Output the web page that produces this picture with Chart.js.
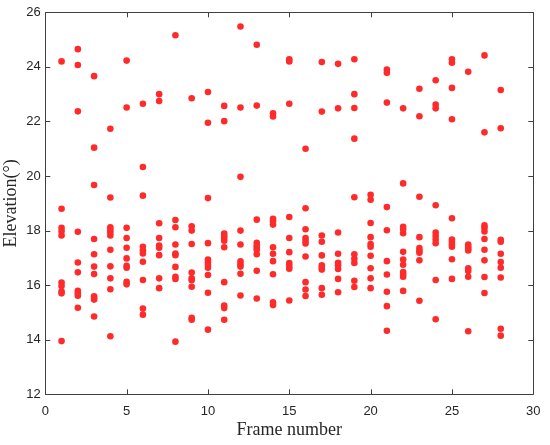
<!DOCTYPE html>
<html>
<head>
<meta charset="utf-8">
<script src="https://cdn.jsdelivr.net/npm/chart.js@4/dist/chart.umd.min.js"></script>
<style>
  body { margin: 0; background: #ffffff; }
  #wrap { width: 550px; height: 445px; }
</style>
</head>
<body>
<div id="wrap"><canvas id="scatterCanvas" width="550" height="445"></canvas></div>
<script>
// Frame numbers and the elevations measured in each frame
const frameNumbers = [1, 2, 3, 4, 5, 6, 7, 8, 9, 10, 11, 12, 13, 14, 15, 16, 17, 18, 19, 20, 21, 22, 23, 24, 25, 26, 27, 28];
const elevations = [
  [24.2, 18.8, 18.1, 17.98, 17.82, 16.1, 15.97, 15.77, 15.7, 13.95],
  [24.65, 24.07, 22.37, 17.96, 16.83, 16.47, 15.79, 15.69, 15.61, 15.17],
  [23.66, 21.04, 19.67, 17.69, 17.13, 16.68, 16.41, 15.59, 15.53, 15.47, 14.85],
  [21.73, 19.21, 18.12, 18.02, 17.93, 17.82, 17.3, 16.69, 16.25, 15.85, 14.13],
  [24.23, 22.51, 18.1, 17.73, 17.37, 16.98, 16.71, 16.64, 16.12, 16.03],
  [22.65, 20.33, 19.28, 17.41, 17.27, 17.16, 16.86, 16.19, 15.14, 14.92],
  [23.0, 22.75, 18.27, 17.73, 17.45, 17.37, 17.1, 16.25, 15.89],
  [25.16, 18.39, 18.12, 17.49, 17.16, 17.1, 16.67, 16.31, 16.23, 13.93],
  [22.85, 18.16, 18.0, 17.51, 16.46, 16.25, 16.18, 15.94, 14.8, 14.73],
  [23.08, 21.95, 19.19, 17.54, 16.94, 16.85, 16.75, 16.64, 16.37, 15.72, 14.37],
  [22.57, 22.01, 17.89, 17.8, 17.73, 17.63, 17.39, 16.11, 15.25, 15.16, 14.73],
  [25.48, 22.51, 19.97, 18.0, 17.49, 16.87, 16.76, 16.68, 16.42, 15.62],
  [24.81, 22.58, 18.4, 17.55, 17.45, 17.37, 17.3, 17.13, 16.53, 15.51],
  [22.3, 22.18, 18.43, 18.34, 18.22, 17.39, 17.15, 16.88, 16.4, 15.37, 15.27],
  [24.28, 24.2, 22.65, 18.5, 17.73, 17.21, 16.81, 16.7, 16.6, 15.44],
  [21.0, 18.82, 18.05, 17.73, 17.63, 17.53, 17.05, 16.11, 15.84, 15.6],
  [24.18, 22.36, 17.82, 17.59, 17.09, 16.73, 16.64, 16.57, 15.89, 15.65],
  [24.11, 22.48, 17.93, 17.15, 16.82, 16.73, 16.59, 16.23, 15.74],
  [24.28, 23.0, 22.49, 21.37, 19.22, 17.13, 16.97, 16.81, 16.16, 15.93],
  [19.31, 19.13, 18.28, 17.76, 17.51, 17.41, 17.08, 16.62, 16.25, 15.89],
  [23.9, 23.78, 22.69, 18.86, 18.01, 16.88, 16.39, 15.76, 15.23, 14.33],
  [22.48, 19.73, 18.14, 18.05, 17.9, 17.22, 16.94, 16.75, 16.48, 16.4, 16.31, 15.79],
  [23.2, 22.19, 19.24, 17.76, 17.36, 17.27, 17.19, 16.91, 15.43],
  [23.51, 22.62, 22.48, 18.93, 17.93, 17.8, 17.67, 17.54, 16.19, 14.75],
  [24.28, 24.15, 23.23, 22.08, 18.45, 17.67, 17.59, 17.49, 17.41, 16.95, 16.23],
  [23.82, 17.49, 17.41, 17.33, 17.27, 16.62, 16.52, 16.31, 14.31],
  [24.42, 21.6, 18.19, 18.1, 17.97, 17.69, 17.3, 16.91, 16.3, 15.71],
  [23.15, 21.75, 17.66, 17.59, 17.15, 16.85, 16.64, 16.28, 14.4, 14.15]
];

// Axis settings
const xMin = 0, xMax = 30, xStep = 5;
const yMin = 12, yMax = 26, yStep = 2;
const xLabel = 'Frame number';
const yLabel = 'Elevation(°)';

const axisColor = '#404040';
const dotColor = '#ff2b2b';

// Build the {x, y} list
let points = [];
frameNumbers.forEach((f, i) => {
  elevations[i].forEach(v => points.push({ x: f, y: v }));
});

// Box around the plot with MATLAB style inward ticks
const boxPlugin = {
  id: 'boxTicks',
  afterDraw(chart) {
    const ctx = chart.ctx;
    const a = chart.chartArea;
    const xs = chart.scales.x, ys = chart.scales.y;
    const len = 5;
    ctx.save();
    ctx.strokeStyle = axisColor;
    ctx.lineWidth = 1;
    ctx.beginPath();
    ctx.rect(Math.round(a.left) + 0.5, Math.round(a.top) + 0.5,
             Math.round(a.right - a.left), Math.round(a.bottom - a.top));
    xs.ticks.forEach(t => {
      const px = Math.round(xs.getPixelForValue(t.value)) + 0.5;
      ctx.moveTo(px, a.bottom); ctx.lineTo(px, a.bottom - len);
      ctx.moveTo(px, a.top); ctx.lineTo(px, a.top + len);
    });
    ys.ticks.forEach(t => {
      const py = Math.round(ys.getPixelForValue(t.value)) + 0.5;
      ctx.moveTo(a.left, py); ctx.lineTo(a.left + len, py);
      ctx.moveTo(a.right, py); ctx.lineTo(a.right - len, py);
    });
    ctx.stroke();
    ctx.restore();
  }
};

const ctx = document.getElementById('scatterCanvas').getContext('2d');
new Chart(ctx, {
  type: 'scatter',
  data: {
    datasets: [{
      data: points,
      backgroundColor: dotColor,
      borderWidth: 0,
      pointRadius: 3.3,
      pointHoverRadius: 3.3
    }]
  },
  options: {
    responsive: false,
    animation: false,
    layout: { padding: { left: 0, right: 12.7, top: 9.3, bottom: 0 } },
    plugins: {
      legend: { display: false },
      tooltip: { enabled: false }
    },
    scales: {
      x: {
        type: 'linear',
        min: xMin, max: xMax,
        afterFit: s => { s.height = 50.7; },
        grid: { display: false, drawTicks: false },
        border: { display: false },
        ticks: {
          stepSize: xStep, padding: 9.5, maxRotation: 0,
          color: '#262626',
          font: { family: 'Liberation Sans', size: 13 }
        },
        title: {
          display: true, text: xLabel, color: '#262626',
          padding: { top: 0, bottom: 4 },
          font: { family: 'Liberation Serif', size: 18 }
        }
      },
      y: {
        type: 'linear',
        min: yMin, max: yMax,
        afterFit: s => { s.width = 45.3; },
        grid: { display: false, drawTicks: false },
        border: { display: false },
        ticks: {
          stepSize: yStep, padding: 4.5,
          color: '#262626',
          font: { family: 'Liberation Sans', size: 13 }
        },
        title: {
          display: true, text: yLabel, color: '#262626',
          padding: { top: 0, bottom: 0 },
          font: { family: 'Liberation Serif', size: 18 }
        }
      }
    }
  },
  plugins: [boxPlugin]
});
</script>
</body>
</html>
